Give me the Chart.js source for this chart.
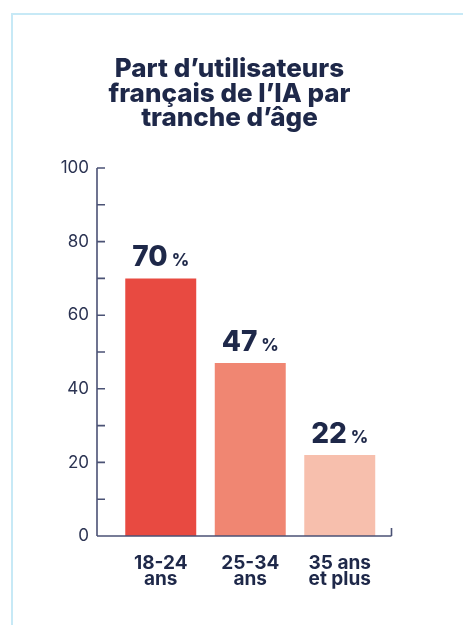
<!DOCTYPE html>
<html><head><meta charset="utf-8">
<script src="https://cdn.jsdelivr.net/npm/chart.js@4"></script>
<style>
html,body{margin:0;padding:0;background:#fff;}
#wrap{position:relative;width:463px;height:625px;overflow:hidden;}
#frame{position:absolute;left:11px;top:13px;right:-10px;bottom:-10px;border-left:2px solid #c7e9f6;border-top:2px solid #c7e9f6;}
canvas{position:absolute;left:0;top:0;}
</style></head><body>
<div id="wrap"><div id="frame"></div><canvas id="c" width="463" height="625"></canvas></div>
<script>
const categories = [["18-24","ans"],["25-34","ans"],["35 ans","et plus"]];
const values = [70,47,22];
const barColors = ["#e84a41","#f08672","#f7bfad"];
const yMin = 0, yMax = 100, yStep = 20, yMinorStep = 10;
const titleLines = ["Part d’utilisateurs","français de l’IA par","tranche d’âge"];

const NAVY = "#1e2849";
const AXIS = "#4b5275";
const FONT = "Inter, 'Noto Sans', sans-serif";

const titlePlugin = {
  id: 'customTitle',
  afterDraw(chart) {
    const {ctx} = chart;
    ctx.save();
    ctx.fillStyle = NAVY;
    ctx.font = "800 26px " + FONT;
    ctx.textAlign = 'center';
    ctx.textBaseline = 'alphabetic';
    titleLines.forEach((t, i) => ctx.fillText(t, 229.5, 77 + i * 24.7));
    ctx.restore();
  }
};

const axisPlugin = {
  id: 'customAxes',
  afterDatasetsDraw(chart) {
    const {ctx, chartArea, scales} = chart;
    const y = scales.y;
    const ax = chartArea.left - 19;
    const right = chartArea.right + 7;
    const y0 = y.getPixelForValue(yMin);
    const yTop = y.getPixelForValue(yMax);
    ctx.save();
    ctx.strokeStyle = AXIS;
    ctx.lineWidth = 1.6;
    ctx.beginPath();
    ctx.moveTo(ax, yTop); ctx.lineTo(ax, y0);
    ctx.moveTo(ax, y0); ctx.lineTo(right, y0);
    ctx.moveTo(right, y0); ctx.lineTo(right, y0 - 8);
    for (let v = yMin; v <= yMax; v += yMinorStep) {
      const py = y.getPixelForValue(v);
      ctx.moveTo(ax, py); ctx.lineTo(ax + 8, py);
    }
    ctx.stroke();
    ctx.restore();
  }
};

const labelPlugin = {
  id: 'valueLabels',
  afterDatasetsDraw(chart) {
    const {ctx} = chart;
    const meta = chart.getDatasetMeta(0);
    ctx.save();
    ctx.fillStyle = NAVY;
    ctx.textBaseline = 'alphabetic';
    meta.data.forEach((bar, i) => {
      const num = String(values[i]);
      ctx.font = "800 28px " + FONT;
      const wn = ctx.measureText(num).width;
      ctx.font = "800 17px " + FONT;
      const wp = ctx.measureText("%").width;
      const gap = 4;
      const total = wn + gap + wp;
      const x0 = bar.x - total / 2;
      const by = bar.y - 12;
      ctx.font = "800 28px " + FONT;
      ctx.textAlign = 'left';
      ctx.fillText(num, x0, by);
      ctx.font = "800 17px " + FONT;
      ctx.fillText("%", x0 + wn + gap, by);
    });
    ctx.restore();
  }
};

new Chart(document.getElementById('c'), {
  type: 'bar',
  data: {
    labels: categories,
    datasets: [{
      data: values,
      backgroundColor: barColors,
      borderWidth: 0,
      barPercentage: 0.793,
      categoryPercentage: 1.0
    }]
  },
  options: {
    responsive: false,
    animation: false,
    devicePixelRatio: 1,
    layout: { padding: { top: 168, right: 78.5, left: 0, bottom: 0 } },
    plugins: {
      legend: { display: false },
      tooltip: { enabled: false },
      title: { display: false }
    },
    scales: {
      x: {
        grid: { display: false, drawTicks: false },
        border: { display: false },
        ticks: {
          color: NAVY,
          padding: 19,
          maxRotation: 0,
          font: { family: FONT, size: 19, weight: '700', lineHeight: 0.85 }
        },
        afterFit(s) { s.height = 89; }
      },
      y: {
        min: yMin, max: yMax,
        grid: { display: false, drawTicks: false },
        border: { display: false },
        ticks: {
          stepSize: yStep,
          color: "#2b3352",
          padding: 27,
          font: { family: FONT, size: 17, weight: '400' }
        },
        afterFit(s) { s.width = 116; }
      }
    }
  },
  plugins: [axisPlugin, labelPlugin, titlePlugin]
});
</script>
</body></html>
